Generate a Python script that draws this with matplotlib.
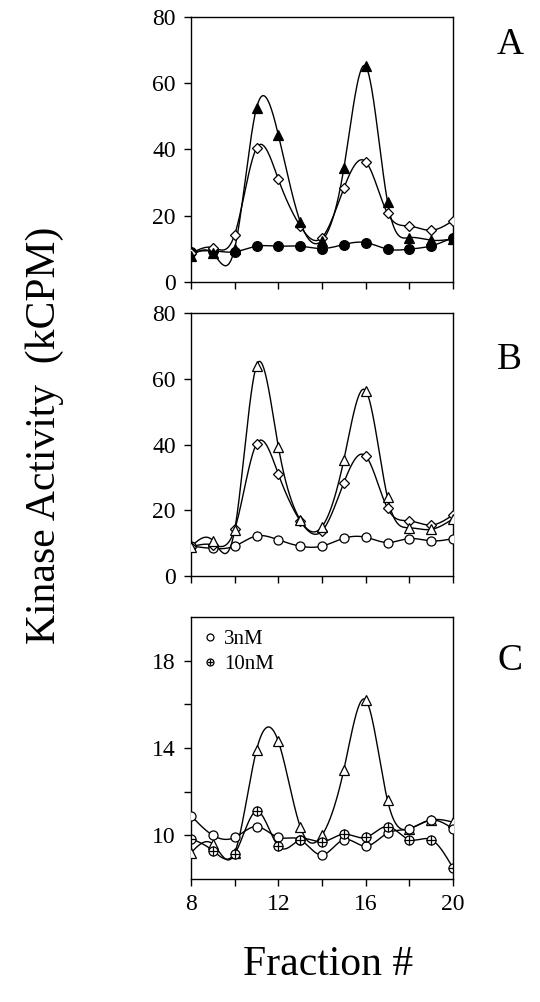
import matplotlib
matplotlib.use('Agg')
import matplotlib.pyplot as plt
from matplotlib.lines import Line2D
from matplotlib.legend_handler import HandlerTuple
import numpy as np

plt.rcParams['font.family'] = ['Liberation Serif', 'DejaVu Serif']

# Fractions
fractions = [8, 9, 10, 11, 12, 13, 14, 15, 16, 17, 18, 19, 20]

# Panel A (kCPM)
a_tri = [7.8, 8.6, 10.1, 52.5, 44.4, 18.2, 12.5, 34.3, 65.1, 24.2, 13.4, 12.6, 13.0]
a_dia = [8.6, 10.4, 14.3, 40.4, 31.0, 16.9, 13.4, 28.3, 36.3, 20.7, 16.9, 15.6, 18.5]
a_circ = [9.1, 9.4, 9.1, 10.8, 10.8, 10.8, 10.1, 11.3, 11.9, 9.9, 9.9, 10.9, 13.4]

# Panel B (kCPM)
b_tri = [8.9, 10.8, 14.0, 64.0, 39.4, 17.1, 15.0, 35.3, 56.4, 23.9, 14.7, 14.2, 17.4]
b_dia = [8.9, 9.5, 14.2, 40.2, 31.0, 16.8, 13.7, 28.4, 36.5, 20.6, 16.8, 15.5, 18.6]
b_circ = [9.1, 8.4, 9.1, 12.2, 11.0, 9.1, 9.1, 11.5, 11.8, 10.2, 11.4, 10.7, 11.4]

# Panel C (kCPM)
c_tri = [9.2, 9.6, 9.2, 13.9, 14.3, 10.4, 10.0, 13.0, 16.2, 11.6, 10.3, 10.7, 10.6]
c_3nm = [10.9, 10.0, 9.9, 10.4, 9.9, 9.8, 9.1, 9.8, 9.5, 10.1, 10.3, 10.7, 10.3]
c_10nm = [9.85, 9.3, 9.15, 11.1, 9.5, 9.8, 9.7, 10.05, 9.9, 10.4, 9.8, 9.8, 8.5]

panel_labels = ['A', 'B', 'C']


def lisser(x, y, n=400):
    # spline cubique naturelle pour tracer la courbe lissée
    x = np.asarray(x, float)
    y = np.asarray(y, float)
    k = len(x)
    h = np.diff(x)
    A = np.zeros((k, k))
    r = np.zeros(k)
    A[0, 0] = A[-1, -1] = 1
    for i in range(1, k - 1):
        A[i, i - 1] = h[i - 1]
        A[i, i] = 2 * (h[i - 1] + h[i])
        A[i, i + 1] = h[i]
        r[i] = 3 * ((y[i + 1] - y[i]) / h[i] - (y[i] - y[i - 1]) / h[i - 1])
    c = np.linalg.solve(A, r)
    xs = np.linspace(x[0], x[-1], n)
    idx = np.clip(np.searchsorted(x, xs) - 1, 0, k - 2)
    dx = xs - x[idx]
    b = (y[idx + 1] - y[idx]) / h[idx] - h[idx] * (2 * c[idx] + c[idx + 1]) / 3
    d = (c[idx + 1] - c[idx]) / (3 * h[idx])
    ys = y[idx] + b * dx + c[idx] * dx ** 2 + d * dx ** 3
    return xs, ys


def tracer(ax, y, marker, face, ms=6):
    xs, ys = lisser(fractions, y)
    ax.plot(xs, ys, color='black', lw=1.0, zorder=2)
    ax.plot(fractions, y, linestyle='none', marker=marker, ms=ms,
            mfc=face, mec='black', mew=0.9, zorder=3)


fig = plt.figure(figsize=(5.4, 10.02), dpi=100)
positions = [
    [0.3537, 0.7186, 0.4852, 0.2645],
    [0.3537, 0.4251, 0.4852, 0.2625],
    [0.3537, 0.1228, 0.4852, 0.2615],
]
axes = [fig.add_axes(p) for p in positions]

# A
ax = axes[0]
tracer(ax, a_circ, 'o', 'black', 7)
tracer(ax, a_dia, 'D', 'white', 5)
tracer(ax, a_tri, '^', 'black', 7)
ax.set_ylim(0, 80)
ax.set_yticks([0, 20, 40, 60, 80])

# B
ax = axes[1]
tracer(ax, b_circ, 'o', 'white', 6.5)
tracer(ax, b_dia, 'D', 'white', 5)
tracer(ax, b_tri, '^', 'white', 7)
ax.set_ylim(0, 80)
ax.set_yticks([0, 20, 40, 60, 80])

# C
ax = axes[2]
tracer(ax, c_tri, '^', 'white', 6.5)
tracer(ax, c_3nm, 'o', 'white', 6.5)
tracer(ax, c_10nm, 'o', 'white', 6.5)
ax.plot(fractions, c_10nm, linestyle='none', marker='+', ms=6.5,
        mec='black', mew=0.9, zorder=4)
ax.set_ylim(8, 20)
ax.set_yticks([10, 14, 18])
ax.set_yticks([12, 16], minor=True)
h3 = Line2D([], [], linestyle='none', marker='o', ms=5, mfc='white', mec='black', mew=0.9)
h10a = Line2D([], [], linestyle='none', marker='o', ms=5, mfc='white', mec='black', mew=0.9)
h10b = Line2D([], [], linestyle='none', marker='+', ms=5, mec='black', mew=0.9)
ax.legend([h3, (h10a, h10b)], ['3nM', '10nM'], loc='upper left', frameon=False,
          fontsize=15, handlelength=0.6, handletextpad=0.4, labelspacing=0.25,
          borderaxespad=0.2, handler_map={tuple: HandlerTuple(ndivide=1)})

for i, ax in enumerate(axes):
    ax.set_xlim(8, 20)
    ax.set_xticks([8, 10, 12, 14, 16, 18, 20])
    ax.tick_params(direction='out', length=5, width=1, labelsize=17, pad=6)
    ax.tick_params(which='minor', direction='out', length=5, width=1)
    for s in ax.spines.values():
        s.set_linewidth(1.0)
    if i < 2:
        ax.set_xticklabels([])
    else:
        ax.set_xticklabels(['8', '', '12', '', '16', '', '20'])

fig.text(0.944, 0.955, 'A', fontsize=27, ha='center', va='center')
fig.text(0.944, 0.641, 'B', fontsize=27, ha='center', va='center')
fig.text(0.944, 0.341, 'C', fontsize=27, ha='center', va='center')
fig.text(0.083, 0.566, 'Kinase Activity  (kCPM)', fontsize=30, rotation=90,
         ha='center', va='center')
fig.text(0.607, 0.037, 'Fraction #', fontsize=30, ha='center', va='center')

plt.savefig('out.png', dpi=100)
plt.close()
